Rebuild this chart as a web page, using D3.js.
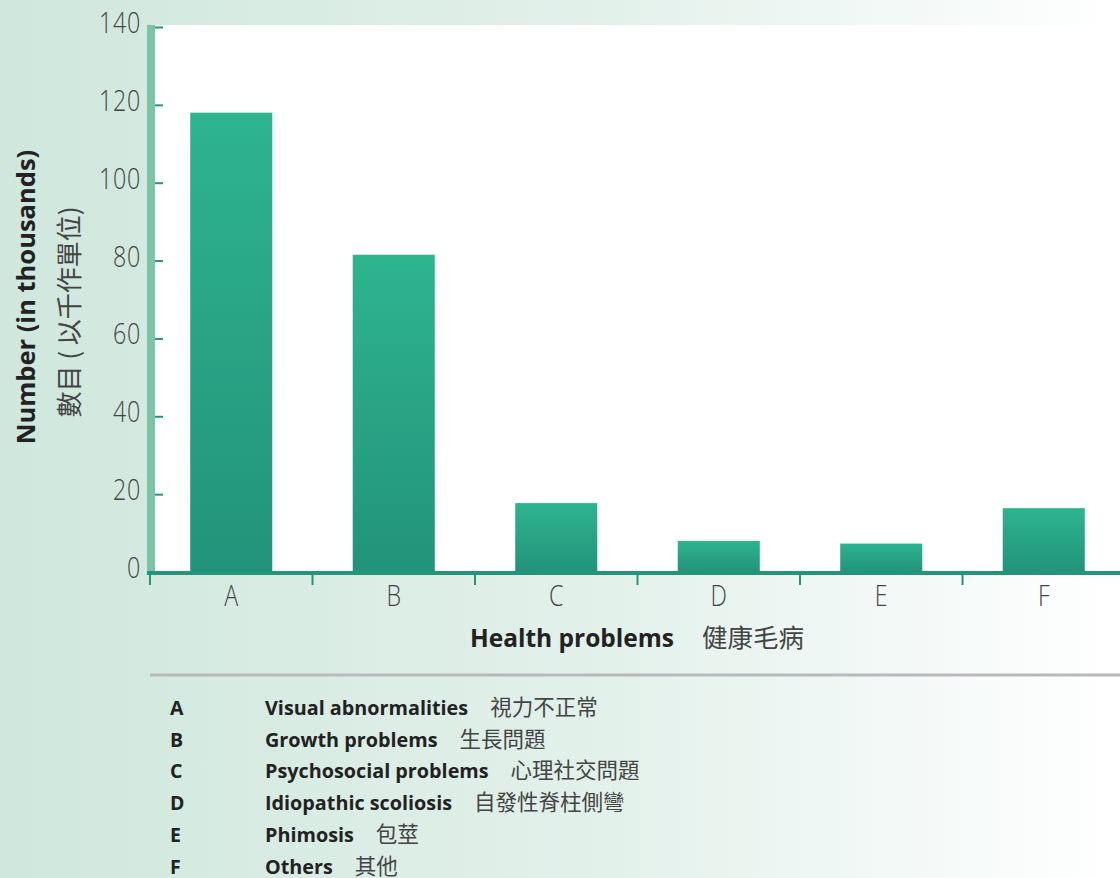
<!DOCTYPE html>
<html>
<head>
<meta charset="UTF-8">
<script src="https://cdnjs.cloudflare.com/ajax/libs/d3/7.8.5/d3.min.js"></script>
<style>
  body { margin: 0; }
  svg { display: block; }
</style>
</head>
<body>
<svg></svg>
<script>
  // data
  const categories = ["A", "B", "C", "D", "E", "F"];
  const values = [118, 81.5, 17.7, 8, 7.3, 16.4];
  const yTicks = [0, 20, 40, 60, 80, 100, 120, 140];
  const namesEn = ["Visual abnormalities", "Growth problems", "Psychosocial problems",
                   "Idiopathic scoliosis", "Phimosis", "Others"];
  const namesZh = ["視力不正常", "生長問題", "心理社交問題", "自發性脊柱側彎", "包莖", "其他"];

  const width = 1120, height = 878;
  const plotLeft = 150, plotRight = 1125, plotTop = 27, plotBottom = 572;
  const light = "'Open Sans', 'Noto Sans', sans-serif";
  const cjk = "'Noto Sans CJK TC', 'Noto Sans CJK SC', sans-serif";

  const svg = d3.select("svg").attr("width", width).attr("height", height);
  const defs = svg.append("defs");

  const bg = defs.append("linearGradient").attr("id", "bg")
    .attr("x1", 0).attr("x2", 1).attr("y1", 0).attr("y2", 0);
  bg.append("stop").attr("offset", 0).attr("stop-color", "#cfe7dd");
  bg.append("stop").attr("offset", 0.55).attr("stop-color", "#e3f1eb");
  bg.append("stop").attr("offset", 1).attr("stop-color", "#ffffff");

  const barGrad = defs.append("linearGradient").attr("id", "bar")
    .attr("x1", 0).attr("x2", 0).attr("y1", 0).attr("y2", 1);
  barGrad.append("stop").attr("offset", 0).attr("stop-color", "#2eb48f");
  barGrad.append("stop").attr("offset", 1).attr("stop-color", "#22937a");

  svg.append("rect").attr("width", width).attr("height", height).attr("fill", "url(#bg)");

  let x = d3.scaleBand().domain(categories).range([plotLeft, plotRight]).padding(0);
  let y = d3.scaleLinear().domain([0, 140]).range([plotBottom, plotTop]);

  // white plot area
  svg.append("rect")
    .attr("x", 155).attr("y", y(140) - 2)
    .attr("width", width - 155).attr("height", plotBottom - y(140) + 2)
    .attr("fill", "#fff");

  // left band
  svg.append("rect")
    .attr("x", 147).attr("y", y(140) - 2)
    .attr("width", 8).attr("height", plotBottom - y(140) + 2)
    .attr("fill", "#7bc4a8");

  // bars
  const bw = x.bandwidth() * 0.505;
  svg.append("g").selectAll("rect")
    .data(values)
    .join("rect")
    .attr("x", (d, i) => x(categories[i]) + (x.bandwidth() - bw) / 2)
    .attr("y", d => y(d))
    .attr("width", bw)
    .attr("height", d => y(0) - y(d))
    .attr("fill", "url(#bar)");

  // y axis
  const yAxis = svg.append("g")
    .attr("transform", "translate(155,0)")
    .call(d3.axisRight(y).tickValues(yTicks).tickSize(8).tickFormat(""));
  yAxis.select(".domain").remove();
  yAxis.selectAll(".tick line").attr("stroke", "#23957a").attr("stroke-width", 2);

  // condensed light labels
  svg.append("g").selectAll("text")
    .data(yTicks)
    .join("text")
    .attr("transform", d => "translate(141," + (y(d) + 6) + ") scale(0.8,1)")
    .attr("text-anchor", "end")
    .attr("font-family", light)
    .attr("font-weight", 300)
    .attr("font-size", 29)
    .attr("letter-spacing", 1)
    .attr("fill", "#444")
    .text(d => d);

  // x axis
  svg.append("line")
    .attr("x1", 147).attr("x2", width)
    .attr("y1", 573).attr("y2", 573)
    .attr("stroke", "#23957a").attr("stroke-width", 4);

  const xAxis = svg.append("g")
    .attr("transform", "translate(0,575)")
    .call(d3.axisBottom(x).tickSize(10).tickFormat(""));
  xAxis.select(".domain").remove();
  xAxis.selectAll(".tick").attr("transform", d => "translate(" + x(d) + ",0)");
  xAxis.selectAll(".tick line").attr("stroke", "#23957a").attr("stroke-width", 2);

  svg.append("g").selectAll("text")
    .data(categories)
    .join("text")
    .attr("transform", d => "translate(" + (x(d) + x.bandwidth() / 2) + ",606) scale(0.8,1)")
    .attr("text-anchor", "middle")
    .attr("font-family", light)
    .attr("font-weight", 300)
    .attr("font-size", 29)
    .attr("fill", "#444")
    .text(d => d);

  // x title
  const xt = svg.append("text")
    .attr("x", 637).attr("y", 647)
    .attr("text-anchor", "middle");
  xt.append("tspan")
    .attr("font-family", light).attr("font-weight", 700).attr("font-size", 24.5)
    .attr("fill", "#222").text("Health problems");
  xt.append("tspan")
    .attr("dx", 28)
    .attr("font-family", cjk).attr("font-size", 25.5)
    .attr("fill", "#444").text("健康毛病");

  // y title
  svg.append("text")
    .attr("transform", "translate(35,297) rotate(-90)")
    .attr("text-anchor", "middle")
    .attr("font-family", light).attr("font-weight", 700).attr("font-size", 25.5)
    .attr("fill", "#222")
    .text("Number (in thousands)");
  svg.append("text")
    .attr("transform", "translate(79,312) rotate(-90)")
    .attr("text-anchor", "middle")
    .attr("font-family", cjk).attr("font-size", 26)
    .attr("fill", "#444")
    .text("數目 ( 以千作單位)");

  // separator
  svg.append("line")
    .attr("x1", 150).attr("x2", width)
    .attr("y1", 675).attr("y2", 675)
    .attr("stroke", "#b9b9bd").attr("stroke-width", 3);

  // legend
  const rows = svg.append("g").selectAll("g")
    .data(categories)
    .join("g")
    .attr("transform", (d, i) => "translate(0," + (715 + i * 31.7) + ")");
  rows.append("text")
    .attr("x", 170)
    .attr("font-family", light).attr("font-weight", 700).attr("font-size", 19.5)
    .attr("fill", "#222")
    .text(d => d);
  const lt = rows.append("text").attr("x", 265);
  lt.append("tspan")
    .attr("font-family", light).attr("font-weight", 700).attr("font-size", 19.8)
    .attr("fill", "#222")
    .text((d, i) => namesEn[i]);
  lt.append("tspan")
    .attr("dx", 22)
    .attr("font-family", cjk).attr("font-size", 21.5)
    .attr("fill", "#444")
    .text((d, i) => namesZh[i]);
</script>
</body>
</html>
